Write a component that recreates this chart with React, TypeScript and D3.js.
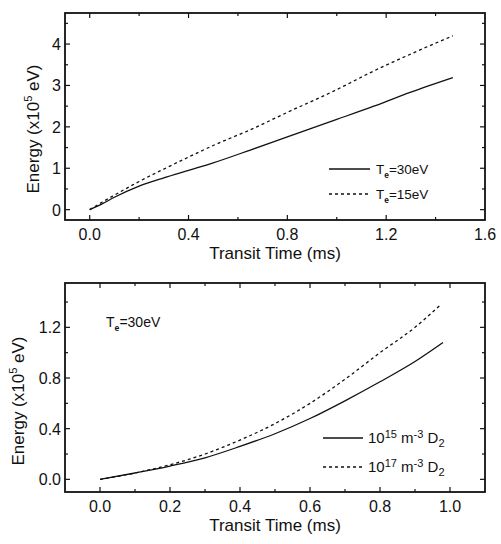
import React, { useEffect, useRef } from 'react';
import * as d3 from 'd3';

// upper panel: energy vs transit time for two electron temperatures
const topTime = [0, 0.05, 0.1, 0.2, 0.3, 0.4, 0.5, 0.65, 0.8, 1.0, 1.15, 1.3, 1.47];
const topTe30 = [0, 0.14, 0.3, 0.57, 0.77, 0.95, 1.13, 1.44, 1.76, 2.18, 2.5, 2.84, 3.19];
const topTe15 = [0, 0.18, 0.35, 0.68, 0.98, 1.27, 1.55, 1.93, 2.35, 2.9, 3.35, 3.76, 4.2];

// lower panel: two D2 densities at Te = 30 eV
const botTime15 = [0, 0.1, 0.2, 0.3, 0.4, 0.5, 0.6, 0.7, 0.8, 0.9, 0.98];
const botD15 = [0, 0.05, 0.105, 0.17, 0.26, 0.36, 0.48, 0.62, 0.77, 0.93, 1.08];
const botTime17 = [0, 0.1, 0.2, 0.3, 0.4, 0.5, 0.6, 0.7, 0.8, 0.9, 0.97];
const botD17 = [0, 0.05, 0.115, 0.2, 0.31, 0.44, 0.6, 0.79, 1.0, 1.2, 1.37];

const topXTicks = [0, 0.4, 0.8, 1.2, 1.6];
const topXMinor = [-0.2, 0.2, 0.6, 1.0, 1.4];
const topYTicks = [0, 1, 2, 3, 4];
const topYMinor = [0.5, 1.5, 2.5, 3.5, 4.5];
const botXTicks = [0, 0.2, 0.4, 0.6, 0.8, 1.0];
const botXMinor = [0.1, 0.3, 0.5, 0.7, 0.9];
const botYTicks = [0, 0.4, 0.8, 1.2];
const botYMinor = [0.2, 0.6, 1.0, 1.4];

const FONT = '"Liberation Sans", Arial, Helvetica, sans-serif';
const INK = '#111';

function drawPanel(svg, cfg) {
  const x = d3.scaleLinear().domain(cfg.xDomain).range([65, 485]);
  const y = d3.scaleLinear().domain(cfg.yDomain).range([cfg.bottom, cfg.top]);
  const g = svg.append('g');

  const inside = (v, dom) => v > dom[0] && v < dom[1];

  // ticks on all four sides, pointing in
  const tk = g.append('g').attr('stroke', INK).attr('stroke-width', 1.2);
  cfg.xTicks.concat(cfg.xMinor).filter(v => inside(v, cfg.xDomain)).forEach(v => {
    const len = cfg.xTicks.includes(v) ? 5 : 3;
    tk.append('line').attr('x1', x(v)).attr('x2', x(v)).attr('y1', cfg.bottom).attr('y2', cfg.bottom - len);
    tk.append('line').attr('x1', x(v)).attr('x2', x(v)).attr('y1', cfg.top).attr('y2', cfg.top + len);
  });
  cfg.yTicks.concat(cfg.yMinor).filter(v => inside(v, cfg.yDomain)).forEach(v => {
    const len = cfg.yTicks.includes(v) ? 5 : 3;
    tk.append('line').attr('x1', 65).attr('x2', 65 + len).attr('y1', y(v)).attr('y2', y(v));
    tk.append('line').attr('x1', 485).attr('x2', 485 - len).attr('y1', y(v)).attr('y2', y(v));
  });

  g.append('rect')
    .attr('x', 65).attr('y', cfg.top)
    .attr('width', 420).attr('height', cfg.bottom - cfg.top)
    .attr('fill', 'none').attr('stroke', INK).attr('stroke-width', 1.8);

  g.selectAll('.xl').data(cfg.xTicks).enter().append('text')
    .attr('x', d => x(d)).attr('y', cfg.bottom + 20)
    .attr('text-anchor', 'middle').attr('font-size', 16).attr('font-family', FONT).attr('fill', INK)
    .text(d => d3.format('.1f')(d));

  g.selectAll('.yl').data(cfg.yTicks).enter().append('text')
    .attr('x', 61).attr('y', d => y(d) + 6)
    .attr('text-anchor', 'end').attr('font-size', 16).attr('font-family', FONT).attr('fill', INK)
    .text(d => d3.format(cfg.yFmt)(d));

  g.append('text')
    .attr('x', 275).attr('y', cfg.bottom + 39)
    .attr('text-anchor', 'middle').attr('font-size', 17).attr('font-family', FONT).attr('fill', INK)
    .text('Transit Time (ms)');

  const yl = g.append('text')
    .attr('transform', `translate(${cfg.yLabelX},${cfg.yLabelY}) rotate(-90)`)
    .attr('text-anchor', 'middle').attr('font-size', 17).attr('font-family', FONT).attr('fill', INK);
  yl.append('tspan').text('Energy (x10');
  yl.append('tspan').attr('font-size', 11).attr('dy', -7).text('5');
  yl.append('tspan').attr('dy', 7).text(' eV)');

  const line = d3.line().x(d => x(d[0])).y(d => y(d[1])).curve(d3.curveMonotoneX);
  cfg.series.forEach(s => {
    g.append('path')
      .datum(d3.zip(s.t, s.v))
      .attr('d', line)
      .attr('fill', 'none').attr('stroke', INK).attr('stroke-width', 1.3)
      .attr('stroke-dasharray', s.dashed ? '3,3' : null);
  });

  return { x, y, g };
}

function teLabel(g, x, y, rest, size) {
  const t = g.append('text').attr('x', x).attr('y', y)
    .attr('font-size', size).attr('font-family', FONT).attr('fill', INK);
  t.append('tspan').text('T');
  t.append('tspan').attr('font-size', size * 0.62).attr('font-weight', 'bold').attr('dy', 4).text('e');
  t.append('tspan').attr('dy', -4).text(rest);
}

function densityLabel(g, x, y, exp) {
  const t = g.append('text').attr('x', x).attr('y', y)
    .attr('font-size', 15).attr('font-family', FONT).attr('fill', INK);
  t.append('tspan').text('10');
  t.append('tspan').attr('font-size', 11).attr('dy', -5).text(exp);
  t.append('tspan').attr('dy', 5).text(' m');
  t.append('tspan').attr('font-size', 11).attr('dy', -5).text('-3');
  t.append('tspan').attr('dy', 5).text(' D');
  t.append('tspan').attr('font-size', 11).attr('dy', 4).text('2');
}

export default function App() {
  const ref = useRef(null);

  useEffect(() => {
    const svg = d3.select(ref.current);
    svg.selectAll('*').remove();

    const top = drawPanel(svg, {
      xDomain: [-0.1, 1.6], yDomain: [-0.25, 4.75], top: 13, bottom: 220,
      xTicks: topXTicks, xMinor: topXMinor, yTicks: topYTicks, yMinor: topYMinor,
      yFmt: 'd', yLabelX: 39, yLabelY: 129,
      series: [
        { t: topTime, v: topTe30, dashed: false },
        { t: topTime, v: topTe15, dashed: true }
      ]
    });
    top.g.append('line').attr('x1', 329).attr('x2', 370).attr('y1', 169).attr('y2', 169)
      .attr('stroke', INK).attr('stroke-width', 1.3);
    top.g.append('line').attr('x1', 329).attr('x2', 370).attr('y1', 194).attr('y2', 194)
      .attr('stroke', INK).attr('stroke-width', 1.3).attr('stroke-dasharray', '3,3');
    teLabel(top.g, 376, 174, '=30eV', 13.5);
    teLabel(top.g, 376, 199, '=15eV', 13.5);

    const bot = drawPanel(svg, {
      xDomain: [-0.1, 1.1], yDomain: [-0.1, 1.55], top: 283, bottom: 492,
      xTicks: botXTicks, xMinor: botXMinor, yTicks: botYTicks, yMinor: botYMinor,
      yFmt: '.1f', yLabelX: 24, yLabelY: 401,
      series: [
        { t: botTime15, v: botD15, dashed: false },
        { t: botTime17, v: botD17, dashed: true }
      ]
    });
    bot.g.append('line').attr('x1', 323).attr('x2', 363).attr('y1', 438).attr('y2', 438)
      .attr('stroke', INK).attr('stroke-width', 1.3);
    bot.g.append('line').attr('x1', 323).attr('x2', 363).attr('y1', 467).attr('y2', 467)
      .attr('stroke', INK).attr('stroke-width', 1.3).attr('stroke-dasharray', '3,3');
    densityLabel(bot.g, 368, 443, '15');
    densityLabel(bot.g, 368, 472, '17');
    teLabel(bot.g, 106, 327, '=30eV', 14);
  }, []);

  return (
    <svg ref={ref} width={501} height={544}
      style={{ position: 'absolute', left: 0, top: 0, background: '#fff' }} />
  );
}
